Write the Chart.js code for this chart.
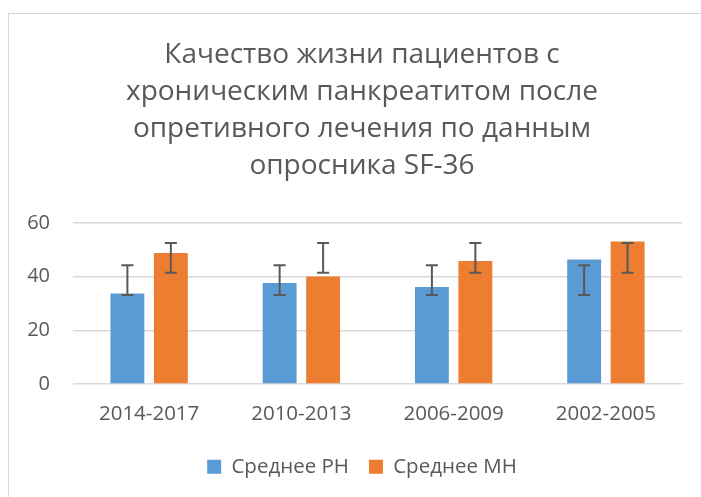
<!DOCTYPE html>
<html>
<head>
<meta charset="utf-8">
<script src="https://cdn.jsdelivr.net/npm/chart.js@4/dist/chart.umd.min.js"></script>
<style>
  html, body { margin: 0; padding: 0; background: #fff; overflow: hidden; }
  #frame { position: absolute; left: 8px; top: 13px; width: 1000px; height: 1000px; border: 1px solid #d9d9d9; }
  #wrap { position: absolute; left: 0; top: 0; width: 724px; height: 497px; }
</style>
</head>
<body>
<div id="frame"></div>
<div id="wrap"><canvas id="chart"></canvas></div>
<script>
const categories = ['2014-2017', '2010-2013', '2006-2009', '2002-2005'];
const meanRH = [33.7, 37.6, 36.1, 46.4];
const meanMH = [48.8, 40.0, 45.8, 53.1];
const errLowRH  = [33.1, 33.1, 33.1, 33.1];
const errHighRH = [44.2, 44.2, 44.2, 44.2];
const errLowMH  = [41.4, 41.4, 41.4, 41.4];
const errHighMH = [52.5, 52.5, 52.5, 52.5];
const yTicks = [0, 20, 40, 60];

const TEXT = '#595959';
const GRID = '#d9d9d9';
const FONT = '"Open Sans", sans-serif';

// error bars drawn on top of bars, positioned via the y scale
const errorBars = {
  id: 'errorBars',
  afterDatasetsDraw(chart) {
    const ctx = chart.ctx;
    const y = chart.scales.y;
    chart.data.datasets.forEach((ds, i) => {
      const meta = chart.getDatasetMeta(i);
      meta.data.forEach((bar, j) => {
        const top = y.getPixelForValue(ds.errHigh[j]);
        const bot = y.getPixelForValue(ds.errLow[j]);
        ctx.save();
        ctx.strokeStyle = TEXT;
        ctx.lineWidth = 2;
        ctx.beginPath();
        ctx.moveTo(bar.x, top); ctx.lineTo(bar.x, bot);
        ctx.moveTo(bar.x - 6, top); ctx.lineTo(bar.x + 6, top);
        ctx.moveTo(bar.x - 6, bot); ctx.lineTo(bar.x + 6, bot);
        ctx.stroke();
        ctx.restore();
      });
    });
  }
};

new Chart(document.getElementById('chart'), {
  type: 'bar',
  data: {
    labels: categories,
    datasets: [
      { label: 'Среднее РН', data: meanRH, errLow: errLowRH, errHigh: errHighRH,
        backgroundColor: '#5b9bd5', categoryPercentage: 0.571, barPercentage: 0.78 },
      { label: 'Среднее МН', data: meanMH, errLow: errLowMH, errHigh: errHighMH,
        backgroundColor: '#ed7d31', categoryPercentage: 0.571, barPercentage: 0.78 },
    ],
  },
  plugins: [errorBars],
  options: {
    responsive: true,
    maintainAspectRatio: false,
    animation: false,
    layout: { padding: { left: 0, right: 0, top: 36, bottom: 10 } },
    scales: {
      x: {
        grid: { display: false },
        border: { color: GRID },
        ticks: { color: TEXT, font: { family: FONT, size: 20.5 }, padding: 10 },
      },
      y: {
        min: 0, max: 60,
        afterBuildTicks: s => { s.ticks = yTicks.map(v => ({ value: v })); },
        afterFit: s => { s.width = 73; },
        grid: { color: GRID, lineWidth: 1.5, drawTicks: false },
        border: { display: false },
        ticks: { color: TEXT, font: { family: FONT, size: 20 }, padding: 23 },
      },
      y2: {
        position: 'right',
        grid: { display: false },
        border: { display: false },
        ticks: { display: false },
        afterFit: s => { s.width = 42; },
      },
    },
    plugins: {
      title: {
        display: true,
        text: ['Качество жизни пациентов с', 'хроническим панкреатитом после',
               'опретивного лечения по данным', 'опросника SF-36'],
        color: TEXT,
        font: { family: FONT, size: 28, weight: 'normal', lineHeight: 1.33 },
        padding: { top: 0, bottom: 38 },
      },
      legend: {
        position: 'bottom',
        labels: {
          color: TEXT, font: { family: FONT, size: 20.5 },
          boxWidth: 14, boxHeight: 14, padding: 20,
        },
      },
      tooltip: { enabled: false },
    },
  },
});
</script>
</body>
</html>
